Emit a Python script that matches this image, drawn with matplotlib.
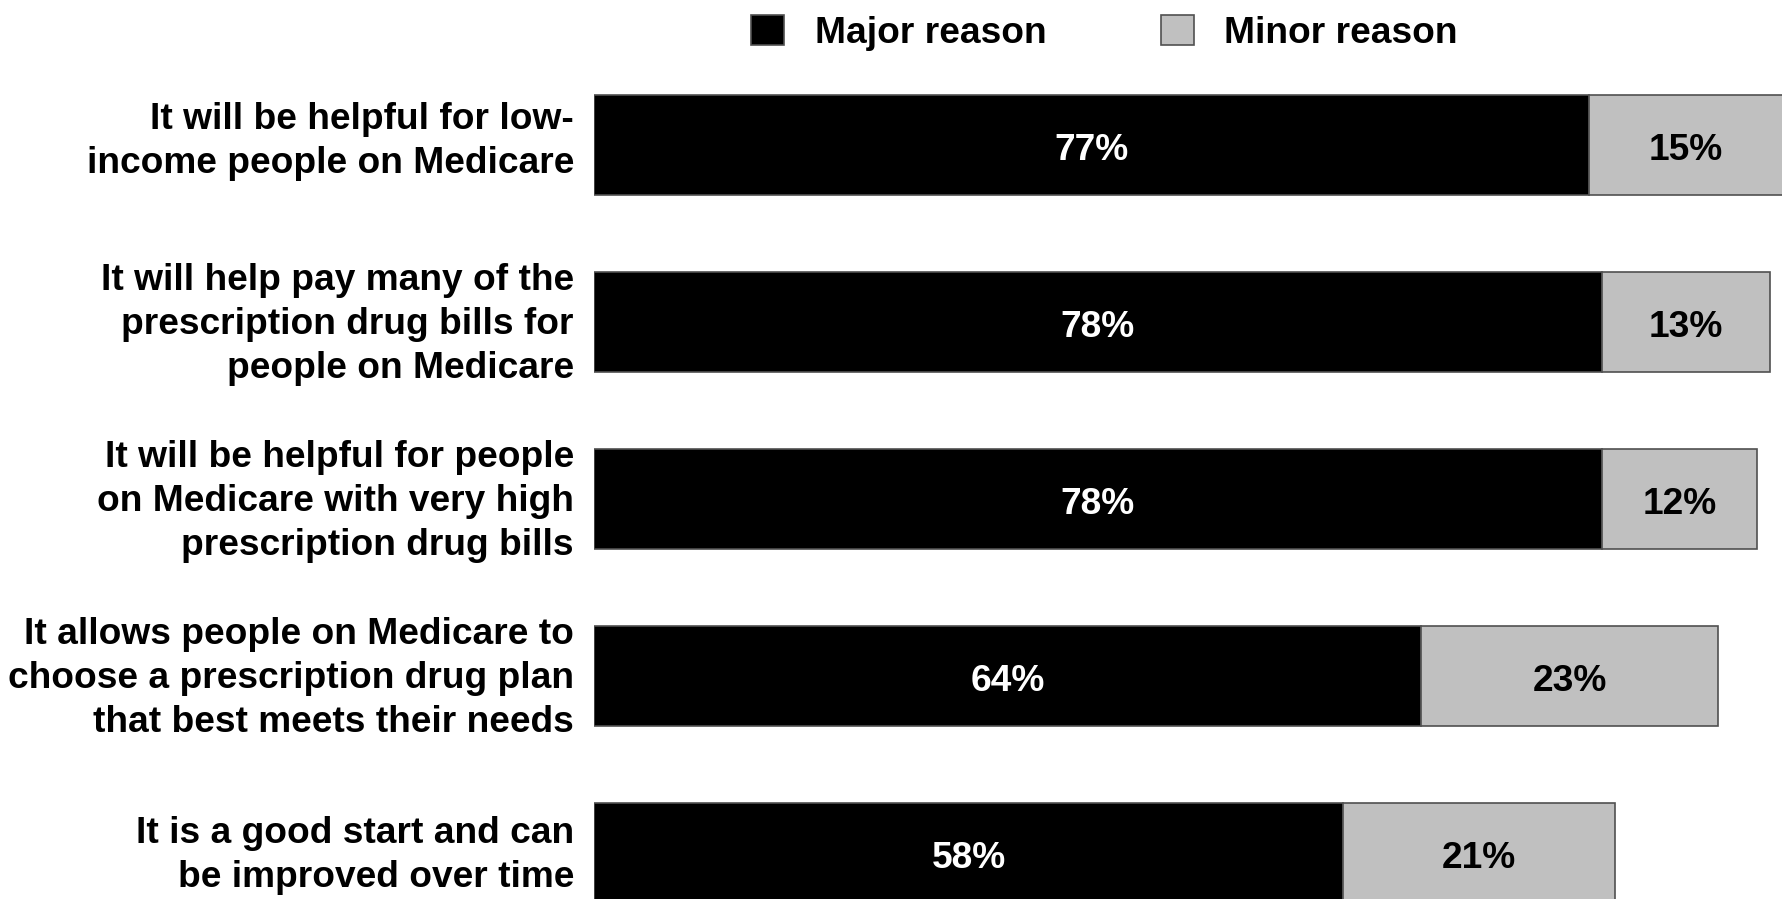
import matplotlib
matplotlib.use("Agg")
import matplotlib.pyplot as plt

plt.rcParams['font.family'] = ['Liberation Sans', 'DejaVu Sans']
plt.rcParams['font.weight'] = 'bold'

reasons = [
    "It will be helpful for low-\nincome people on Medicare",
    "It will help pay many of the\nprescription drug bills for\npeople on Medicare",
    "It will be helpful for people\non Medicare with very high\nprescription drug bills",
    "It allows people on Medicare to\nchoose a prescription drug plan\nthat best meets their needs",
    "It is a good start and can\nbe improved over time",
]
major = [77, 78, 78, 64, 58]
minor = [15, 13, 12, 23, 21]

major_color = '#000000'
minor_color = '#C0C0C0'
edge = '#505050'
fs = 26.7

fig = plt.figure(figsize=(17.82, 8.99), dpi=100)
ax = fig.add_axes([594 / 1782, 0, 1 - 594 / 1782, 1])

y = list(range(len(reasons)))
b1 = ax.barh(y, major, height=0.565, color=major_color, edgecolor=edge, linewidth=1.2, label='Major reason')
b2 = ax.barh(y, minor, left=major, height=0.565, color=minor_color, edgecolor=edge, linewidth=1.2, label='Minor reason')

for i in y:
    ax.text(major[i] / 2, i + 0.01, f"{major[i]}%", ha='center', va='center_baseline', color='white', fontsize=fs, fontweight='bold')
    ax.text(major[i] + minor[i] / 2, i + 0.01, f"{minor[i]}%", ha='center', va='center_baseline', color='black', fontsize=fs, fontweight='bold')
    dy = -0.02 if i == 0 else 0.012
    ax.text(-1.55, i + dy, reasons[i], ha='right', va='center', color='black', fontsize=fs, fontweight='bold',
            linespacing=1.33)

ax.set_xlim(0, 1188 / 12.92)
ax.set_ylim(4.260, -0.819)
ax.axis('off')

fig.legend(handles=[b1, b2], loc='center left', bbox_to_anchor=(751 / 1782, 1 - 33 / 899),
           ncol=2, frameon=False, prop={'weight': 'bold', 'size': fs},
           handlelength=0.9, handleheight=0.85, handletextpad=0.82, columnspacing=3.08,
           borderpad=0, borderaxespad=0)

fig.savefig('out.png', dpi=100)
